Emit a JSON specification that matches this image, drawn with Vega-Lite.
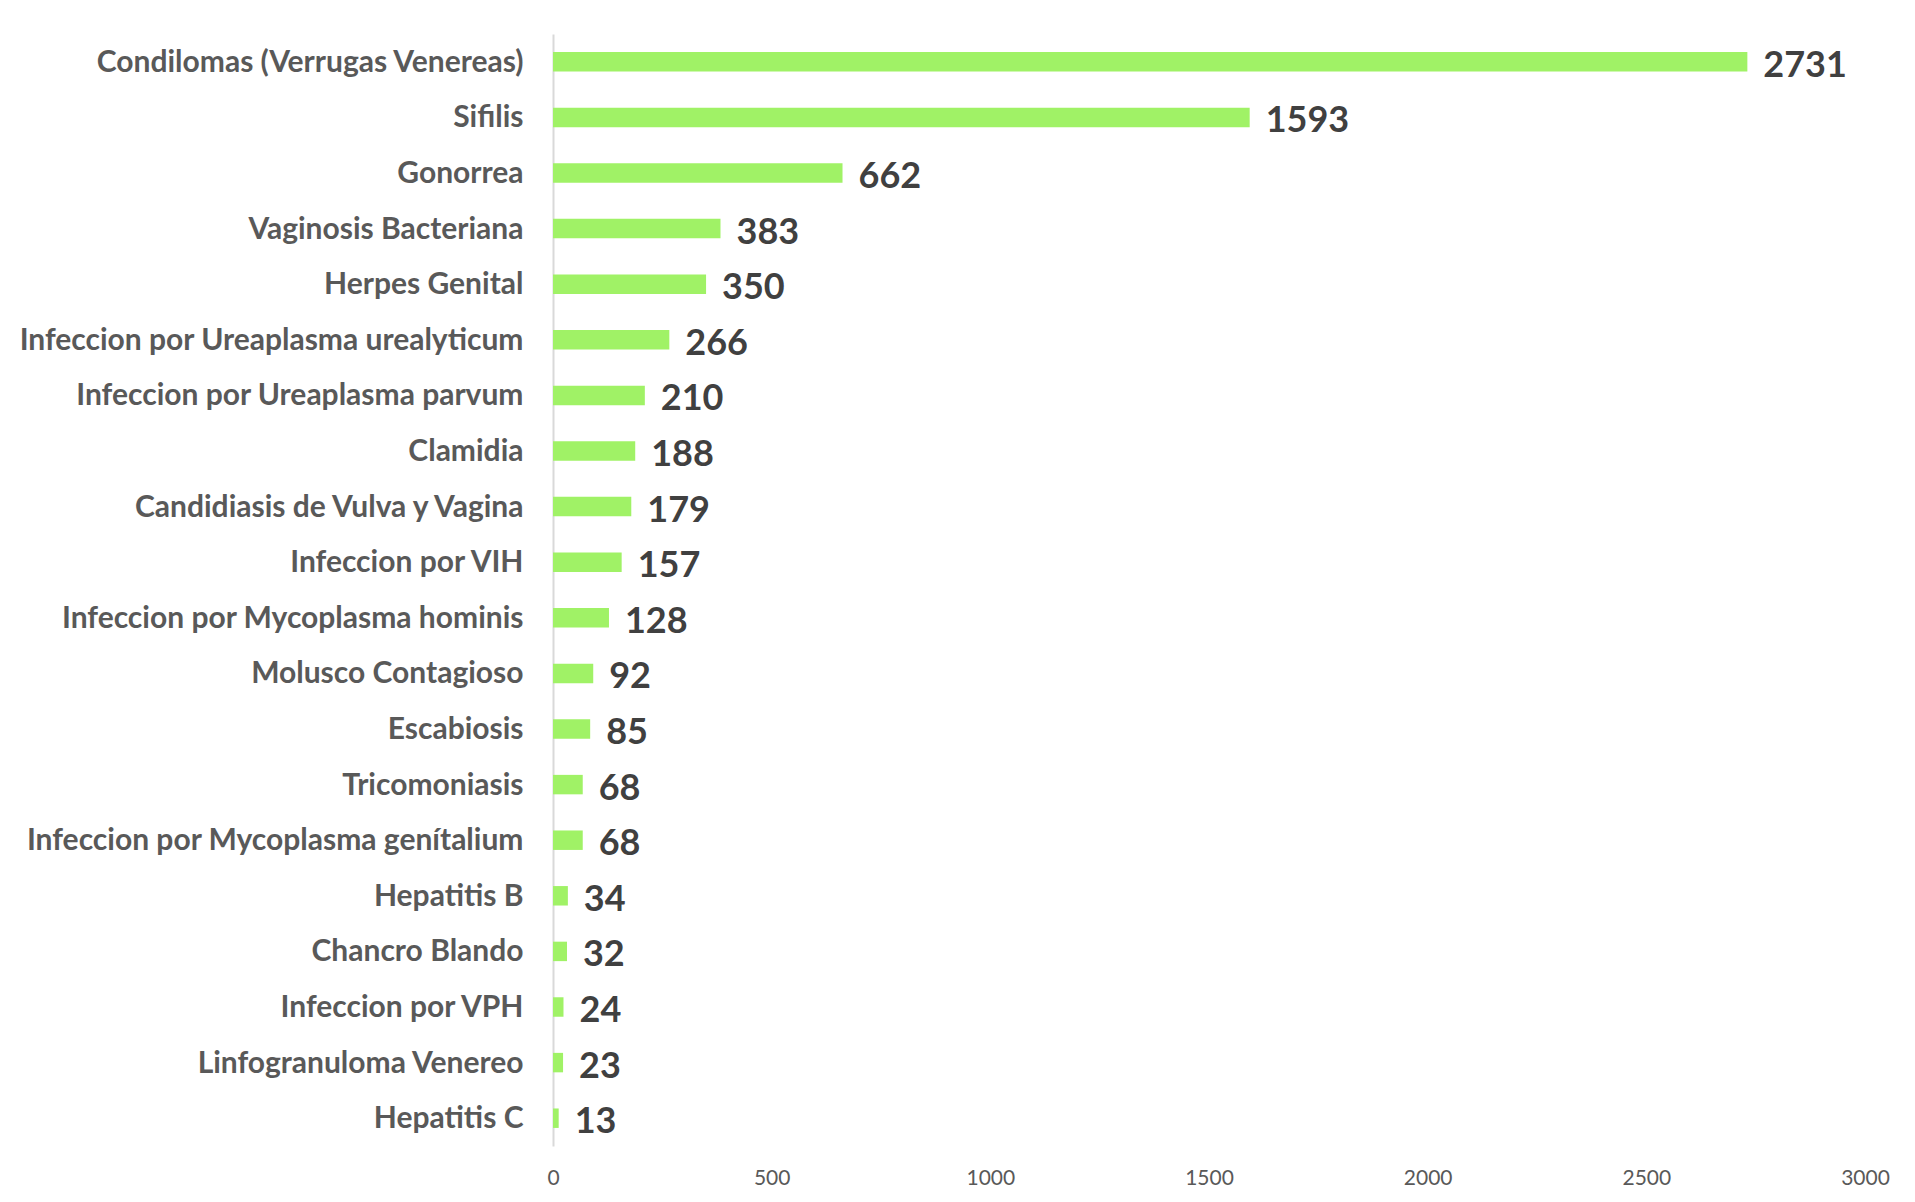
{
  "$schema": "https://vega.github.io/schema/vega-lite/v6.json",
  "width": 1312,
  "height": 1112,
  "autosize": {"type": "none"},
  "padding": {"left": 553, "top": 34, "right": 50, "bottom": 56},
  "background": "white",
  "config": {"view": {"stroke": null}, "font": "Lato"},
  "data": {"values": [
    {"cat": "Condilomas (Verrugas Venereas)", "v": 2731},
    {"cat": "Sifilis", "v": 1593},
    {"cat": "Gonorrea", "v": 662},
    {"cat": "Vaginosis Bacteriana", "v": 383},
    {"cat": "Herpes Genital", "v": 350},
    {"cat": "Infeccion por Ureaplasma urealyticum", "v": 266},
    {"cat": "Infeccion por Ureaplasma parvum", "v": 210},
    {"cat": "Clamidia", "v": 188},
    {"cat": "Candidiasis de Vulva y Vagina", "v": 179},
    {"cat": "Infeccion por VIH", "v": 157},
    {"cat": "Infeccion por Mycoplasma hominis", "v": 128},
    {"cat": "Molusco Contagioso", "v": 92},
    {"cat": "Escabiosis", "v": 85},
    {"cat": "Tricomoniasis", "v": 68},
    {"cat": "Infeccion por Mycoplasma genítalium", "v": 68},
    {"cat": "Hepatitis B", "v": 34},
    {"cat": "Chancro Blando", "v": 32},
    {"cat": "Infeccion por VPH", "v": 24},
    {"cat": "Linfogranuloma Venereo", "v": 23},
    {"cat": "Hepatitis C", "v": 13}
  ]},
  "encoding": {
    "y": {
      "field": "cat", "type": "nominal", "sort": null,
      "scale": {"paddingInner": 0.65, "paddingOuter": 0.325},
      "axis": {
        "title": null, "ticks": false, "domain": true, "domainColor": "#d9d9d9", "domainWidth": 2,
        "labelFont": "Lato", "labelFontSize": 30, "labelFontWeight": "bold", "labelColor": "#595959",
        "labelPadding": 30, "labelLimit": 700, "labelOffset": 1
      }
    },
    "x": {
      "field": "v", "type": "quantitative",
      "scale": {"domain": [0, 3000], "nice": false},
      "axis": {
        "title": null, "values": [0, 500, 1000, 1500, 2000, 2500, 3000], "format": "d", "grid": false, "ticks": false, "domain": false,
        "labelFont": "Lato", "labelFontSize": 21, "labelColor": "#595959", "labelPadding": 21, "labelFlush": false, "labelOverlap": false
      }
    }
  },
  "layer": [
    {"mark": {"type": "bar", "color": "#A0F266"}},
    {"mark": {"type": "text", "align": "left", "baseline": "middle", "dx": 16, "dy": 4, "font": "Lato", "fontSize": 36, "fontWeight": "bold", "color": "#404040"},
     "encoding": {"text": {"field": "v", "type": "quantitative"}}}
  ]
}
